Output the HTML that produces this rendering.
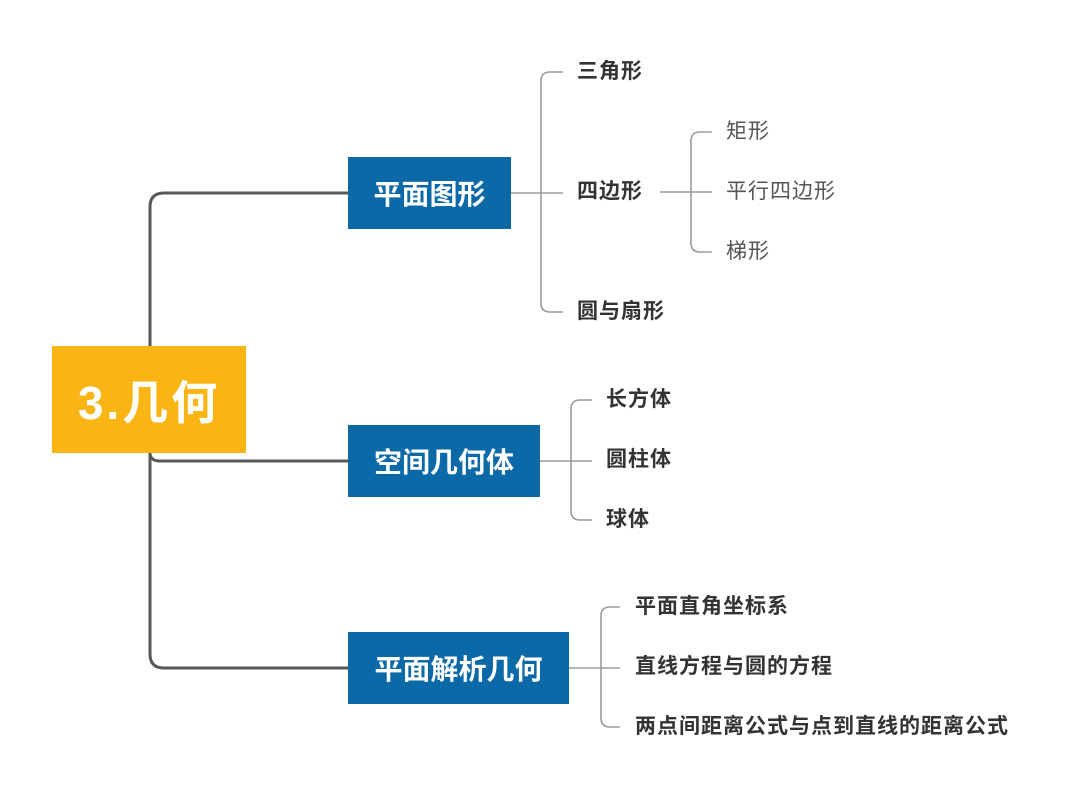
<!DOCTYPE html>
<html><head><meta charset="utf-8"><style>
html,body{margin:0;padding:0;background:#fff;}
body{width:1080px;height:802px;position:relative;overflow:hidden;font-family:"Liberation Sans","Noto Sans CJK SC",sans-serif;}
.box{position:absolute;color:#fff;font-weight:bold;display:flex;align-items:center;justify-content:center;}
.b{background:#0b69a7;font-size:28px;}
.t{position:absolute;font-size:21px;line-height:26px;color:#333;font-weight:bold;white-space:nowrap;letter-spacing:1px;}
.n{font-weight:normal;color:#555;}
</style></head><body>
<svg width="1080" height="802" style="position:absolute;left:0;top:0">
<g fill="none" stroke="#595959" stroke-width="3">
<path d="M150 346 V207 Q150 193 164 193 H348"/>
<path d="M150 453 Q150 461 160 461 H348"/>
<path d="M150 453 V654 Q150 668 164 668 H348"/>
</g>
<g fill="none" stroke="#9a9a9a" stroke-width="1.6">
<path d="M511 193 H563"/>
<path d="M563 72 H550 Q541 72 541 81 V303 Q541 312 550 312 H563"/>
<path d="M660 192 H712"/>
<path d="M712 132 H700 Q691 132 691 141 V243 Q691 252 700 252 H712"/>
<path d="M540 461 H592"/>
<path d="M592 400 H580 Q571 400 571 409 V511 Q571 520 580 520 H592"/>
<path d="M569 668 H620"/>
<path d="M620 607 H610 Q601 607 601 616 V718 Q601 727 610 727 H620"/>
</g>
</svg>
<div class="box" style="left:52px;top:346px;width:194px;height:107px;background:#fab515;font-size:46px;font-weight:bold;letter-spacing:3px;">3.几何</div>
<div class="box b" style="left:348px;top:157px;width:163px;height:72px;">平面图形</div>
<div class="box b" style="left:348px;top:425px;width:192px;height:72px;">空间几何体</div>
<div class="box b" style="left:348px;top:632px;width:221px;height:72px;">平面解析几何</div>
<div class="t" style="left:577px;top:59px">三角形</div>
<div class="t" style="left:577px;top:179px">四边形</div>
<div class="t" style="left:577px;top:299px">圆与扇形</div>
<div class="t n" style="left:726px;top:119px">矩形</div>
<div class="t n" style="left:726px;top:179px">平行四边形</div>
<div class="t n" style="left:726px;top:239px">梯形</div>
<div class="t" style="left:606px;top:387px">长方体</div>
<div class="t" style="left:606px;top:447px">圆柱体</div>
<div class="t" style="left:606px;top:507px">球体</div>
<div class="t" style="left:635px;top:594px">平面直角坐标系</div>
<div class="t" style="left:635px;top:654px">直线方程与圆的方程</div>
<div class="t" style="left:635px;top:714px">两点间距离公式与点到直线的距离公式</div>
</body></html>
